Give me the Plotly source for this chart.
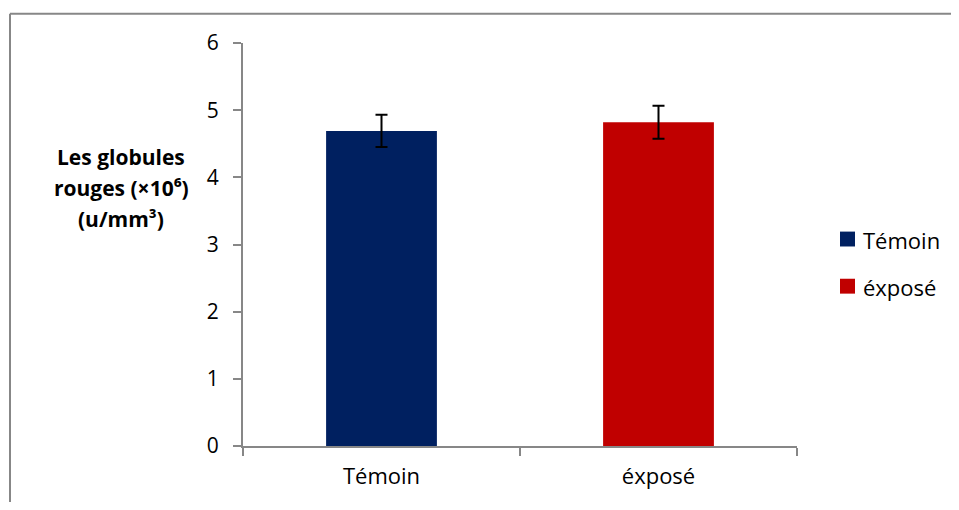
import plotly.graph_objects as go

categories = ["Témoin", "éxposé"]
values = [4.69, 4.82]
errors = [0.24, 0.245]
colors = ["#002060", "#C00000"]
y_ticks = [0, 1, 2, 3, 4, 5, 6]
y_title_lines = ["Les globules", "rouges (×10⁶)", "(u/mm³)"]

OFF = 8  # default body margin of the html page
W, H = 959 - 2 * OFF, 510 - 2 * OFF
L, R, T, B = 243 - OFF, 797 - OFF, 43 - OFF, 449 - OFF
FONT = "Open Sans"

fig = go.Figure()
for cat, v, e, c in zip(categories, values, errors, colors):
    fig.add_trace(go.Bar(
        x=[cat], y=[v], name=cat, marker=dict(color=c, line=dict(width=0)),
        width=0.4, showlegend=False,
        error_y=dict(type="data", array=[e], visible=True, color="black", thickness=2, width=6),
    ))

def px2x(p):
    return (p - OFF - L) / (R - L)

def py2y(p):
    return (B - (p - OFF)) / (B - T)

# outer frame (only top and left edges visible)
fig.add_shape(type="line", xref="paper", yref="paper",
              x0=px2x(10), x1=px2x(975), y0=py2y(13.5), y1=py2y(13.5),
              line=dict(color="#878787", width=2))
fig.add_shape(type="line", xref="paper", yref="paper",
              x0=px2x(10), x1=px2x(10), y0=py2y(13.5), y1=py2y(530),
              line=dict(color="#878787", width=2))

# y-axis title, one annotation per line for Excel-like spacing
for line, yc in zip(y_title_lines, [158, 189, 220]):
    fig.add_annotation(xref="paper", yref="paper", x=px2x(121), y=py2y(yc),
                       text="<b>" + line + "</b>",
                       showarrow=False, align="center",
                       font=dict(size=21, color="black", family=FONT),
                       xanchor="center", yanchor="middle")

# legend (square markers + labels)
leg_y = [240.5, 288]
for cat, c, yc in zip(categories, colors, leg_y):
    fig.add_shape(type="rect", xref="paper", yref="paper",
                  x0=px2x(840), x1=px2x(855), y0=py2y(yc - 7.5), y1=py2y(yc + 7.5),
                  fillcolor=c, line=dict(width=0))
    fig.add_annotation(xref="paper", yref="paper", x=px2x(861), y=py2y(yc + 1),
                       text=cat, showarrow=False, xanchor="left", yanchor="middle",
                       font=dict(size=22, color="black", family=FONT))

fig.update_layout(
    width=W, height=H,
    margin=dict(l=L, r=W - R, t=T, b=H - B, pad=0),
    paper_bgcolor="white", plot_bgcolor="white",
    font=dict(family=FONT, size=22, color="black"),
    showlegend=False,
    bargap=0.6,
    xaxis=dict(showline=True, linecolor="#878787", linewidth=2, ticks="outside",
               tickson="boundaries", ticklen=8, tickcolor="#878787", tickwidth=2,
               showgrid=False, ticklabelstandoff=10, range=[-0.5, 1.5],
               tickfont=dict(size=22)),
    yaxis=dict(range=[0, 6], tickvals=y_ticks, showline=True, linecolor="#878787", linewidth=2,
               ticks="outside", ticklen=8, tickcolor="#878787", tickwidth=2, showgrid=False,
               zeroline=False, ticklabelstandoff=10, tickfont=dict(size=21)),
)

fig.write_html("out.html")
